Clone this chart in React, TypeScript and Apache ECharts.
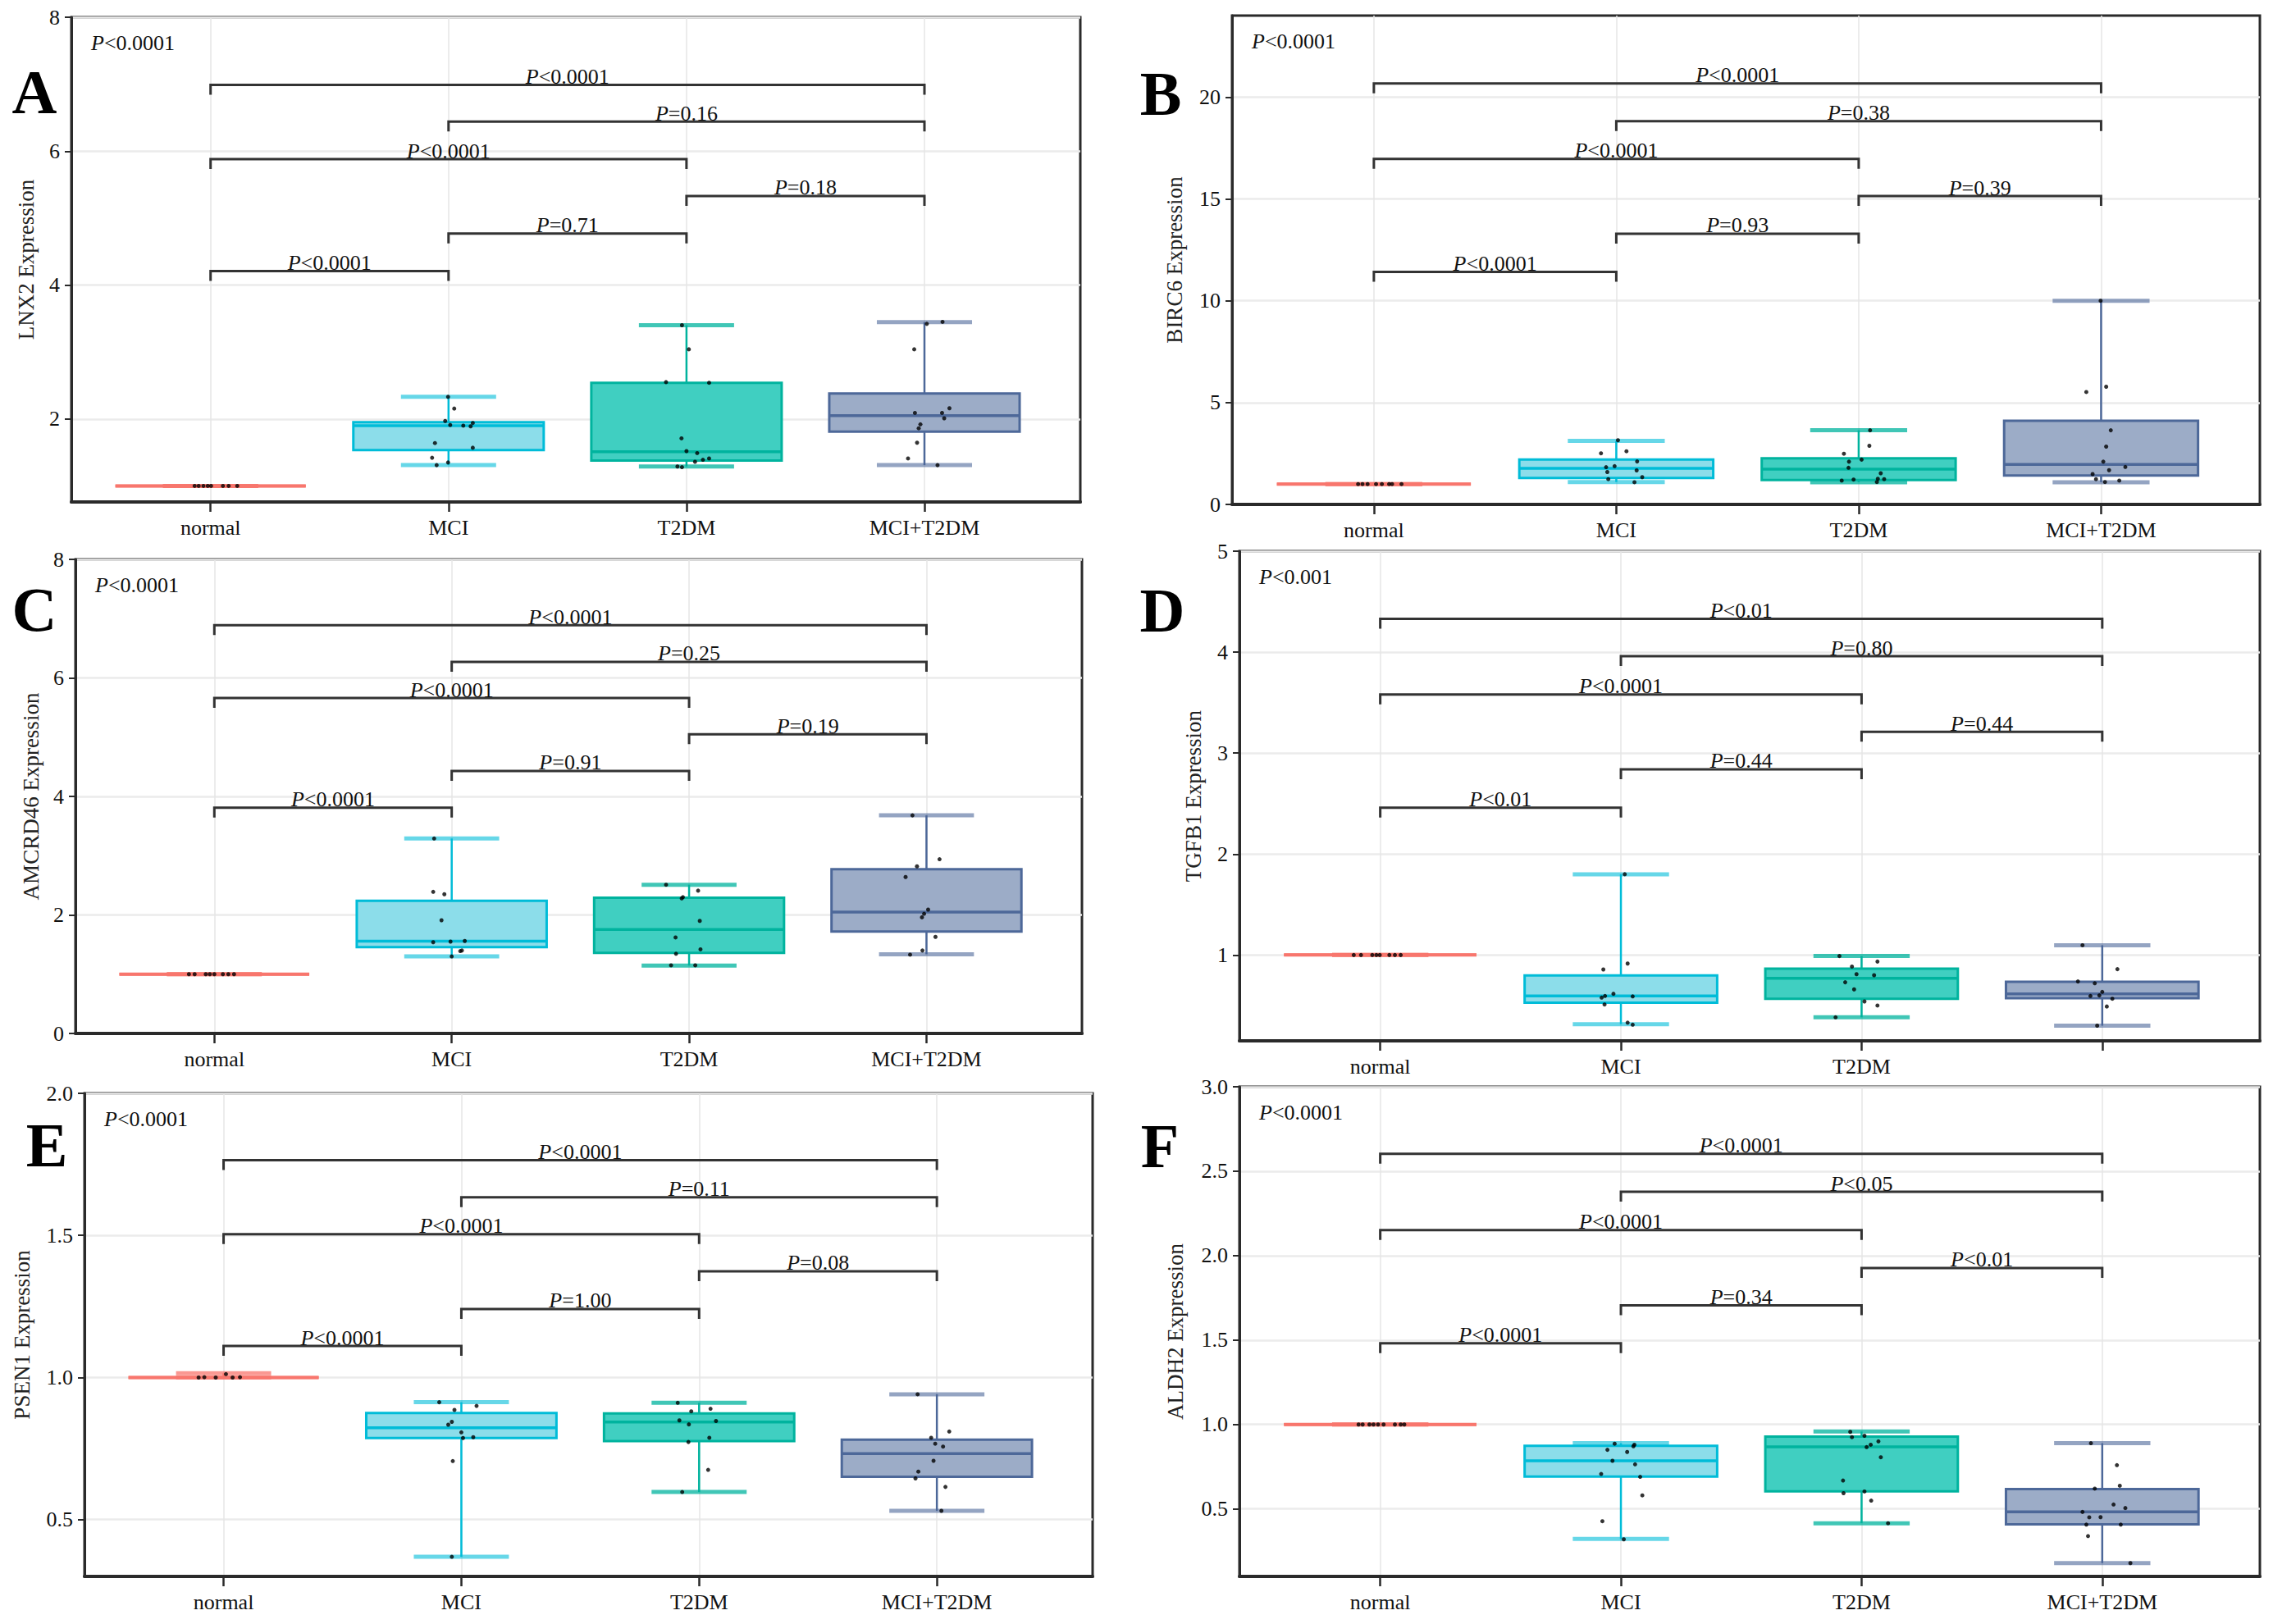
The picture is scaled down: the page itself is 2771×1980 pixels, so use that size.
import React, { useEffect, useRef } from 'react';
import * as echarts from 'echarts';

const FONT = 'Liberation Serif, Times New Roman, serif';

const categories = ['normal', 'MCI', 'T2DM', 'MCI+T2DM'];
const categoriesD = ['normal', 'MCI', 'T2DM', ''];
const pairs = [[0, 3], [1, 3], [0, 2], [2, 3], [1, 2], [0, 1]];

// ---------- Panel A: LNX2 ----------
const lnx2Box = [[1, 1, 1, 1, 1], [1.31, 1.535, 1.9, 1.95, 2.33], [1.29, 1.38, 1.51, 2.54, 3.4], [1.31, 1.81, 2.05, 2.38, 3.445]];
const lnx2Normal = [[-0.067, 1], [-0.05, 1], [-0.03, 1], [-0.012, 1], [0.002, 1], [0.052, 1], [0.076, 1], [0.112, 1]];
const lnx2MCI = [[-0.002, 2.33], [0.024, 2.155], [-0.014, 1.97], [0.007, 1.91], [0.062, 1.9], [0.093, 1.89], [0.102, 1.94], [-0.057, 1.64], [0.102, 1.57], [-0.069, 1.42], [-0.002, 1.35], [-0.05, 1.31]];
const lnx2T2DM = [[-0.019, 3.4], [0.01, 3.04], [-0.086, 2.55], [0.095, 2.54], [-0.021, 1.71], [0, 1.52], [0.045, 1.49], [0.036, 1.36], [0.069, 1.39], [0.095, 1.41], [-0.038, 1.29], [-0.019, 1.28]];
const lnx2Both = [[0.01, 3.42], [0.076, 3.45], [-0.043, 3.04], [-0.04, 2.09], [0.074, 2.09], [0.105, 2.16], [0.083, 2.01], [-0.017, 1.92], [-0.024, 1.86], [-0.031, 1.645], [-0.069, 1.41], [0.055, 1.31]];
const lnx2Brackets = [6.99, 6.44, 5.88, 5.33, 4.77, 4.21];
const lnx2Labels = ['P<0.0001', 'P=0.16', 'P<0.0001', 'P=0.18', 'P=0.71', 'P<0.0001'];
const lnx2Ticks = [2, 4, 6, 8];

// ---------- Panel B: BIRC6 ----------
const birc6Box = [[1, 1, 1, 1, 1], [1.1, 1.3, 1.77, 2.2, 3.12], [1.09, 1.2, 1.73, 2.27, 3.64], [1.09, 1.42, 1.96, 4.11, 10.0]];
const birc6Normal = [[-0.065, 1], [-0.047, 1], [-0.026, 1], [0.009, 1], [0.033, 1], [0.063, 1], [0.075, 1], [0.114, 1]];
const birc6MCI = [[0.007, 3.15], [-0.063, 2.51], [0.042, 2.61], [0.086, 2.11], [-0.042, 1.83], [-0.007, 1.88], [-0.037, 1.59], [0.084, 1.67], [0.107, 1.34], [-0.033, 1.24], [0.075, 1.09]];
const birc6T2DM = [[0.047, 3.64], [0.044, 2.88], [-0.061, 2.49], [0.012, 2.2], [-0.04, 2.1], [-0.042, 1.8], [0.091, 1.53], [0.079, 1.26], [0.105, 1.24], [-0.07, 1.17], [-0.021, 1.22], [0.075, 1.1]];
const birc6Both = [[-0.002, 10.0], [-0.061, 5.52], [0.021, 5.78], [0.04, 3.64], [0.021, 2.84], [0.009, 2.1], [0.1, 1.84], [0.033, 1.68], [-0.035, 1.49], [-0.021, 1.24], [0.016, 1.1], [0.075, 1.17]];
const birc6Brackets = [20.67, 18.82, 16.96, 15.14, 13.29, 11.42];
const birc6Labels = ['P<0.0001', 'P=0.38', 'P<0.0001', 'P=0.39', 'P=0.93', 'P<0.0001'];
const birc6Ticks = [0, 5, 10, 15, 20];

// ---------- Panel C: AMCRD46 ----------
const amcrd46Box = [[1, 1, 1, 1, 1], [1.3, 1.456, 1.557, 2.24, 3.29], [1.146, 1.36, 1.755, 2.29, 2.51], [1.336, 1.72, 2.05, 2.77, 3.68]];
const amcrd46Normal = [[-0.107, 1], [-0.083, 1], [-0.036, 1], [-0.019, 1], [0, 1], [0.036, 1], [0.059, 1], [0.083, 1]];
const amcrd46MCI = [[-0.074, 3.29], [-0.078, 2.39], [-0.031, 2.35], [-0.043, 1.91], [-0.078, 1.54], [-0.005, 1.55], [0.055, 1.56], [0.043, 1.4], [0.036, 1.39], [0, 1.3]];
const amcrd46T2DM = [[-0.097, 2.51], [0.038, 2.41], [-0.031, 2.28], [-0.026, 2.3], [0.045, 1.9], [-0.057, 1.62], [0.048, 1.42], [-0.055, 1.345], [-0.076, 1.15], [0.026, 1.15]];
const amcrd46Both = [[-0.059, 3.68], [0.055, 2.94], [-0.04, 2.82], [-0.088, 2.64], [0.007, 2.09], [-0.01, 2.02], [-0.019, 1.96], [0.038, 1.63], [-0.017, 1.4], [-0.069, 1.33]];
const amcrd46Brackets = [6.89, 6.27, 5.66, 5.05, 4.43, 3.81];
const amcrd46Labels = ['P<0.0001', 'P=0.25', 'P<0.0001', 'P=0.19', 'P=0.91', 'P<0.0001'];
const amcrd46Ticks = [0, 2, 4, 6, 8];

// ---------- Panel D: TGFB1 ----------
const tgfb1Box = [[1, 1, 1, 1, 1], [0.315, 0.527, 0.594, 0.797, 1.8], [0.383, 0.567, 0.77, 0.865, 0.99], [0.3, 0.573, 0.616, 0.735, 1.097]];
const tgfb1Normal = [[-0.11, 1], [-0.08, 1], [-0.033, 1], [-0.016, 1], [-0.002, 1], [0.038, 1], [0.061, 1], [0.085, 1]];
const tgfb1MCI = [[0.016, 1.8], [0.028, 0.916], [-0.073, 0.857], [-0.031, 0.616], [-0.066, 0.594], [-0.08, 0.578], [0.049, 0.59], [-0.068, 0.51], [0.028, 0.33], [0.049, 0.31]];
const tgfb1T2DM = [[-0.092, 0.99], [0.066, 0.935], [-0.04, 0.886], [-0.021, 0.81], [0.052, 0.8], [-0.068, 0.73], [-0.031, 0.66], [0.012, 0.54], [0.066, 0.5], [-0.108, 0.383]];
const tgfb1Both = [[-0.082, 1.097], [0.063, 0.86], [-0.101, 0.738], [-0.031, 0.72], [0, 0.635], [-0.012, 0.6], [-0.049, 0.594], [0.042, 0.567], [0.019, 0.49], [-0.021, 0.3]];
const tgfb1Brackets = [4.33, 3.96, 3.58, 3.21, 2.84, 2.46];
const tgfb1Labels = ['P<0.01', 'P=0.80', 'P<0.0001', 'P=0.44', 'P=0.44', 'P<0.01'];
const tgfb1Ticks = [1, 2, 3, 4, 5];

// ---------- Panel E: PSEN1 ----------
const psen1Box = [[1, 1, 1, 1, 1.015], [0.369, 0.787, 0.823, 0.875, 0.913], [0.597, 0.776, 0.843, 0.874, 0.911], [0.531, 0.651, 0.732, 0.781, 0.941]];
const psen1Normal = [[-0.105, 1.0], [-0.081, 1.001], [-0.033, 1.0], [0.01, 1.012], [0.038, 1.0], [0.069, 1.001]];
const psen1MCI = [[-0.093, 0.913], [0.064, 0.9], [-0.029, 0.886], [-0.04, 0.844], [-0.055, 0.834], [0, 0.807], [0.007, 0.787], [0.05, 0.79], [-0.036, 0.706], [-0.04, 0.369]];
const psen1T2DM = [[-0.09, 0.911], [0.048, 0.89], [-0.033, 0.881], [-0.083, 0.849], [-0.043, 0.835], [0.071, 0.847], [0.043, 0.788], [-0.045, 0.773], [0.038, 0.675], [-0.071, 0.597]];
const psen1Both = [[-0.081, 0.941], [0.052, 0.81], [-0.024, 0.788], [-0.007, 0.767], [0.026, 0.757], [-0.014, 0.707], [-0.078, 0.669], [-0.09, 0.645], [0.036, 0.615], [0.019, 0.531]];
const psen1Brackets = [1.765, 1.634, 1.504, 1.374, 1.241, 1.111];
const psen1Labels = ['P<0.0001', 'P=0.11', 'P<0.0001', 'P=0.08', 'P=1.00', 'P<0.0001'];
const psen1Ticks = [0.5, 1.0, 1.5, 2.0];

// ---------- Panel F: ALDH2 ----------
const aldh2Box = [[1, 1, 1, 1, 1], [0.322, 0.692, 0.785, 0.873, 0.889], [0.415, 0.604, 0.868, 0.928, 0.958], [0.179, 0.409, 0.482, 0.617, 0.889]];
const aldh2Normal = [[-0.09, 1], [-0.073, 1], [-0.045, 1], [-0.028, 1], [-0.009, 1], [0.014, 1], [0.061, 1], [0.085, 1], [0.1, 1]];
const aldh2MCI = [[-0.026, 0.886], [0.056, 0.88], [0.052, 0.871], [-0.056, 0.85], [0.026, 0.837], [-0.035, 0.785], [0.059, 0.764], [-0.082, 0.707], [0.08, 0.69], [0.089, 0.58], [-0.077, 0.427], [0.012, 0.32]];
const aldh2T2DM = [[-0.047, 0.956], [0.012, 0.933], [-0.04, 0.925], [0.07, 0.9], [0.038, 0.88], [0.021, 0.866], [0.08, 0.806], [-0.077, 0.668], [-0.075, 0.593], [0.012, 0.603], [0.04, 0.549], [0.11, 0.415]];
const aldh2Both = [[-0.047, 0.889], [0.061, 0.759], [-0.031, 0.62], [0.073, 0.637], [0.047, 0.526], [0.096, 0.505], [-0.082, 0.482], [-0.054, 0.45], [-0.007, 0.451], [-0.066, 0.407], [0.077, 0.407], [-0.059, 0.339], [0.117, 0.179]];
const aldh2Brackets = [2.603, 2.378, 2.151, 1.927, 1.706, 1.481];
const aldh2Labels = ['P<0.0001', 'P<0.05', 'P<0.0001', 'P<0.01', 'P=0.34', 'P<0.0001'];
const aldh2Ticks = [0.5, 1.0, 1.5, 2.0, 2.5, 3.0];

const overallP = ['P<0.0001', 'P<0.0001', 'P<0.0001', 'P<0.001', 'P<0.0001', 'P<0.0001'];
const panelLetters = ['A', 'B', 'C', 'D', 'E', 'F'];

const groupColors = [
  { line: '#F8766D', fill: '#FBA59E', cap: 'rgba(248,118,109,0.75)' },
  { line: '#00BCD8', fill: '#8CDDEA', cap: 'rgba(0,188,216,0.6)' },
  { line: '#00B39E', fill: '#40CFC1', cap: 'rgba(0,179,158,0.75)' },
  { line: '#4D6899', fill: '#9CACC7', cap: 'rgba(77,104,153,0.6)' },
];

const panels = [
  { name: 'LNX2 Expression', box: lnx2Box, pts: [lnx2Normal, lnx2MCI, lnx2T2DM, lnx2Both], br: lnx2Brackets, lab: lnx2Labels, ticks: lnx2Ticks, min: 0.76, max: 8, dec: 0, cats: categories,
    grid: { left: 87, top: 21, width: 1230, height: 591 }, nameGap: 42 },
  { name: 'BIRC6 Expression', box: birc6Box, pts: [birc6Normal, birc6MCI, birc6T2DM, birc6Both], br: birc6Brackets, lab: birc6Labels, ticks: birc6Ticks, min: 0, max: 24, dec: 0, cats: categories,
    grid: { left: 1502, top: 19, width: 1253, height: 596 }, nameGap: 57 },
  { name: 'AMCRD46 Expression', box: amcrd46Box, pts: [amcrd46Normal, amcrd46MCI, amcrd46T2DM, amcrd46Both], br: amcrd46Brackets, lab: amcrd46Labels, ticks: amcrd46Ticks, min: 0, max: 8, dec: 0, cats: categories,
    grid: { left: 92, top: 682, width: 1227, height: 578 }, nameGap: 41 },
  { name: 'TGFB1 Expression', box: tgfb1Box, pts: [tgfb1Normal, tgfb1MCI, tgfb1T2DM, tgfb1Both], br: tgfb1Brackets, lab: tgfb1Labels, ticks: tgfb1Ticks, min: 0.15, max: 5, dec: 0, cats: categoriesD,
    grid: { left: 1511, top: 672, width: 1244, height: 597 }, nameGap: 43 },
  { name: 'PSEN1 Expression', box: psen1Box, pts: [psen1Normal, psen1MCI, psen1T2DM, psen1Both], br: psen1Brackets, lab: psen1Labels, ticks: psen1Ticks, min: 0.3, max: 2.0, dec: 1, cats: categories,
    grid: { left: 103, top: 1333, width: 1229, height: 589 }, nameGap: 63 },
  { name: 'ALDH2 Expression', box: aldh2Box, pts: [aldh2Normal, aldh2MCI, aldh2T2DM, aldh2Both], br: aldh2Brackets, lab: aldh2Labels, ticks: aldh2Ticks, min: 0.1, max: 3.0, dec: 1, cats: categories,
    grid: { left: 1511, top: 1325, width: 1244, height: 597 }, nameGap: 65 },
];

const letterPos = [[42, 112], [1415, 114], [42, 743], [1417, 744], [57, 1396], [1414, 1397]];

function richP(s: string) {
  return '{i|P}' + s.slice(1);
}

const richStyle = {
  i: { fontStyle: 'italic', fontFamily: FONT, fontSize: 26, fill: '#111' },
};

function boxRender(params: any, api: any) {
  const gi = api.value(0);
  const low = api.value(1), q1 = api.value(2), med = api.value(3), q3 = api.value(4), high = api.value(5);
  const c = groupColors[gi];
  const pLow = api.coord([gi, low]);
  const pHigh = api.coord([gi, high]);
  const pQ1 = api.coord([gi, q1]);
  const pQ3 = api.coord([gi, q3]);
  const pMed = api.coord([gi, med]);
  const halfBox = api.size([0.4, 0])[0];
  const halfCap = api.size([0.2, 0])[0];
  const x = pLow[0];
  return {
    type: 'group',
    children: [
      { type: 'line', shape: { x1: x, y1: pHigh[1], x2: x, y2: pQ3[1] }, style: { stroke: c.line, lineWidth: 2.5 } },
      { type: 'line', shape: { x1: x, y1: pQ1[1], x2: x, y2: pLow[1] }, style: { stroke: c.line, lineWidth: 2.5 } },
      { type: 'line', shape: { x1: x - halfCap, y1: pHigh[1], x2: x + halfCap, y2: pHigh[1] }, style: { stroke: c.cap, lineWidth: 5 } },
      { type: 'line', shape: { x1: x - halfCap, y1: pLow[1], x2: x + halfCap, y2: pLow[1] }, style: { stroke: c.cap, lineWidth: 5 } },
      { type: 'rect', shape: { x: x - halfBox, y: pQ3[1], width: 2 * halfBox, height: pQ1[1] - pQ3[1] }, style: { fill: c.fill, stroke: c.line, lineWidth: gi === 0 ? 4 : 3 } },
      { type: 'line', shape: { x1: x - halfBox, y1: pMed[1], x2: x + halfBox, y2: pMed[1] }, style: { stroke: c.line, lineWidth: 3.5 } },
    ],
  };
}

function bracketRender(labels: string[]) {
  return (params: any, api: any) => {
    const i = params.dataIndex;
    const a = api.coord([api.value(0), api.value(2)]);
    const b = api.coord([api.value(1), api.value(2)]);
    const tip = 12;
    return {
      type: 'group',
      children: [
        {
          type: 'polyline',
          shape: { points: [[a[0], a[1] + tip], [a[0], a[1]], [b[0], b[1]], [b[0], b[1] + tip]] },
          style: { stroke: '#333', lineWidth: 3, fill: null },
        },
        {
          type: 'text',
          x: (a[0] + b[0]) / 2,
          y: a[1] + 3,
          style: {
            text: richP(labels[i]),
            rich: richStyle,
            fontFamily: FONT,
            fontSize: 26,
            fill: '#111',
            align: 'center',
            verticalAlign: 'bottom',
          },
        },
      ],
    };
  };
}

function buildOption() {
  const grids: any[] = [];
  const xAxes: any[] = [];
  const yAxes: any[] = [];
  const series: any[] = [];
  const graphics: any[] = [];

  panels.forEach((p, k) => {
    grids.push({ ...p.grid, show: true, borderColor: '#2a2a2a', borderWidth: 3, containLabel: false });
    xAxes.push({
      type: 'value', gridIndex: k, min: -0.585, max: 3.655,
      axisLine: { show: true, onZero: false, lineStyle: { color: '#2a2a2a', width: 4 } },
      axisTick: { show: true, customValues: [0, 1, 2, 3], length: 12, lineStyle: { color: '#2a2a2a', width: 2.5 } },
      axisLabel: {
        customValues: [0, 1, 2, 3], margin: 18, fontFamily: FONT, fontSize: 26, color: '#111',
        formatter: (v: number) => p.cats[Math.round(v)] ?? '',
      },
      splitLine: { show: true, lineStyle: { color: '#E6E6E6', width: 1.5 } },
    });
    yAxes.push({
      type: 'value', gridIndex: k, min: p.min, max: p.max,
      name: p.name, nameLocation: 'middle', nameGap: p.nameGap, nameRotate: 90,
      nameTextStyle: { fontFamily: FONT, fontSize: 27, color: '#222' },
      axisLine: { show: true, onZero: false, lineStyle: { color: '#2a2a2a', width: 3 } },
      axisTick: { show: true, customValues: p.ticks, length: 8, lineStyle: { color: '#2a2a2a', width: 2 } },
      axisLabel: {
        customValues: p.ticks, margin: 14, fontFamily: FONT, fontSize: 26, color: '#111',
        formatter: (v: number) => v.toFixed(p.dec),
      },
      splitLine: { show: true, lineStyle: { color: '#EBEBEB', width: 2.5 } },
    });

    series.push({
      type: 'custom', xAxisIndex: k, yAxisIndex: k, renderItem: boxRender, z: 2,
      encode: { x: 0, y: [1, 2, 3, 4, 5] },
      data: p.box.map((b, gi) => [gi, ...b]),
    });
    const ptsData: number[][] = [];
    p.pts.forEach((arr, gi) => arr.forEach(([off, v]) => ptsData.push([gi + off, v])));
    series.push({
      type: 'scatter', xAxisIndex: k, yAxisIndex: k, z: 3,
      symbol: 'circle', symbolSize: 5, itemStyle: { color: '#000' },
      data: ptsData,
    });
    series.push({
      type: 'custom', xAxisIndex: k, yAxisIndex: k, renderItem: bracketRender(p.lab), z: 4,
      encode: { x: [0, 1], y: 2 },
      data: pairs.map((pr, i) => [pr[0], pr[1], p.br[i]]),
    });

    graphics.push({
      type: 'text', x: p.grid.left + 24, y: p.grid.top + 31,
      style: {
        text: richP(overallP[k]), rich: richStyle, fontFamily: FONT, fontSize: 26, fill: '#111',
        align: 'left', verticalAlign: 'middle',
      },
    });
    graphics.push({
      type: 'text', x: letterPos[k][0], y: letterPos[k][1],
      style: {
        text: panelLetters[k], fontFamily: FONT, fontSize: 76, fontWeight: 'bold', fill: '#000',
        align: 'center', verticalAlign: 'middle',
      },
    });
  });

  return {
    animation: false,
    backgroundColor: '#ffffff',
    grid: grids,
    xAxis: xAxes,
    yAxis: yAxes,
    series,
    graphic: graphics,
  };
}

export default function App() {
  const ref = useRef<HTMLDivElement>(null);
  useEffect(() => {
    if (!ref.current) return;
    const chart = echarts.init(ref.current, undefined, { renderer: 'svg' });
    chart.setOption(buildOption() as any);
    return () => chart.dispose();
  }, []);
  return (
    <div
      ref={ref}
      style={{ position: 'absolute', left: 0, top: 0, width: 2771, height: 1980, background: '#fff' }}
    />
  );
}
